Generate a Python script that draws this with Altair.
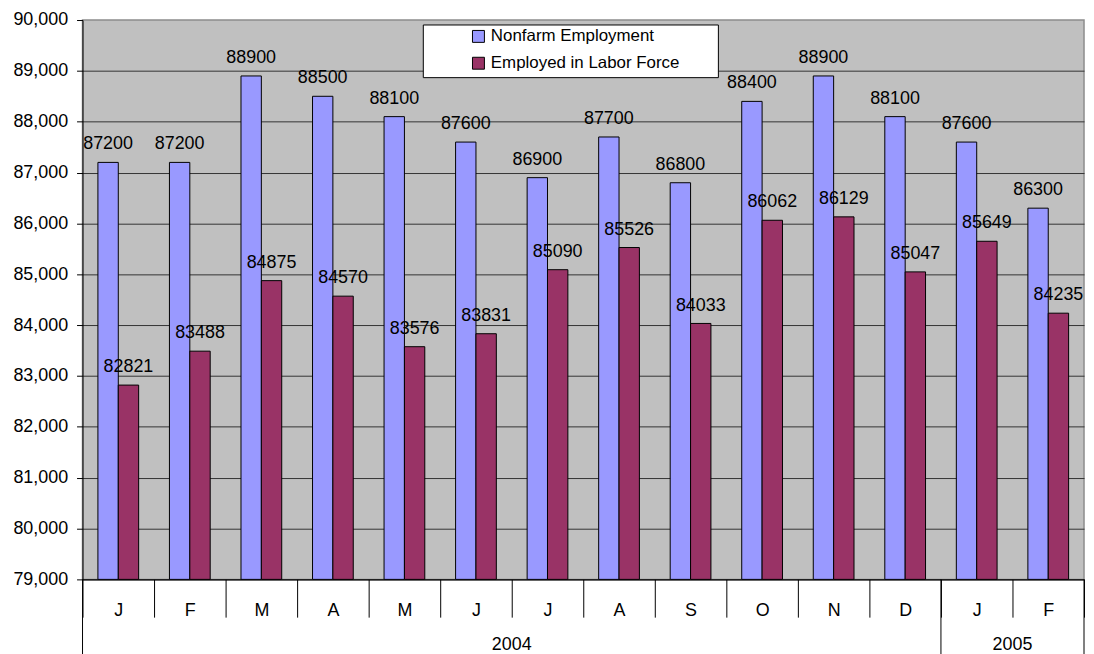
import altair as alt
import pandas as pd

FONT = "Liberation Sans"

months = ["J", "F", "M", "A", "M", "J", "J", "A", "S", "O", "N", "D", "J", "F"]
year_names = ["2004", "2005"]
year_start_idx = [0, 12]      # first month index of each year
year_center_idx = [6, 13]     # band whose left edge is the middle of the year span
series = ["Nonfarm Employment", "Employed in Labor Force"]
colors = ["#9999FF", "#993366"]
nonfarm = [87200, 87200, 88900, 88500, 88100, 87600, 86900, 87700, 86800, 88400, 88900, 88100, 87600, 86300]
employed = [82821, 83488, 84875, 84570, 83576, 83831, 85090, 85526, 84033, 86062, 86129, 85047, 85649, 84235]
y_ticks = list(range(79000, 90001, 1000))
y_min, y_max = 79000, 90000

keys = [f"{m}|{i}" for i, m in enumerate(months)]

rows = []
for k, a, b in zip(keys, nonfarm, employed):
    rows.append({"key": k, "series": series[0], "value": a})
    rows.append({"key": k, "series": series[1], "value": b})
df = pd.DataFrame(rows)

x_scale = alt.Scale(domain=keys, paddingInner=0, paddingOuter=0)
x_axis = alt.Axis(
    title=None, labelExpr="split(datum.label, '|')[0]", labelAngle=0,
    tickBand="extent", tickSize=38, tickColor="black", tickWidth=1,
    domainColor="black", domainWidth=1, labelFontSize=18, labelFont=FONT,
    labelColor="black", labelBaseline="middle", labelPadding=-7, grid=False,
    labelFlush=False, labelOverlap=False,
)
y_scale = alt.Scale(domain=[y_min, y_max], zero=False, nice=False)
y_axis = alt.Axis(
    title=None, values=y_ticks, format=",.0f", grid=True, gridColor="#333333",
    gridWidth=1, gridOpacity=alt.condition(f"datum.value == {y_max}", alt.value(0), alt.value(1)),
    tickSize=6, tickColor="black", domainColor="black",
    labelFontSize=18, labelFont=FONT, labelColor="black", labelPadding=9,
)
xoff = alt.XOffset("series:N", sort=series,
                   scale=alt.Scale(domain=series, paddingInner=0, paddingOuter=0.756))

bars = alt.Chart(df).mark_bar(stroke="black", strokeWidth=1).encode(
    x=alt.X("key:N", scale=x_scale, sort=keys, axis=x_axis),
    xOffset=xoff,
    y=alt.Y("value:Q", scale=y_scale, axis=y_axis),
    y2=alt.datum(y_min),
    color=alt.Color(
        "series:N", sort=series,
        scale=alt.Scale(domain=series, range=colors),
        legend=alt.Legend(
            title=None, orient="none", legendX=390, legendY=8,
            symbolType="square", symbolSize=144, symbolStrokeColor="black",
            symbolStrokeWidth=1, symbolOpacity=1,
            labelFontSize=17, labelFont=FONT, labelColor="black",
            labelOffset=4, rowPadding=9, padding=0, labelLimit=400,
        ),
    ),
)

labels = alt.Chart(df).mark_text(
    baseline="alphabetic", dy=-13, fontSize=18, font=FONT, color="black"
).encode(
    x=alt.X("key:N", scale=x_scale, sort=keys, axis=x_axis),
    xOffset=xoff,
    y=alt.Y("value:Q", scale=y_scale, axis=y_axis),
    text=alt.Text("value:Q", format="d"),
)

legend_box = alt.Chart(pd.DataFrame({"a": [0]})).mark_rect(
    fill="white", stroke="black", strokeWidth=1
).encode(
    x=alt.value(343), x2=alt.value(640), y=alt.value(5), y2=alt.value(58)
)

ydf = pd.DataFrame({
    "year": year_names,
    "start": [keys[i] for i in year_start_idx],
    "center": [keys[i] for i in year_center_idx],
})
end_df = pd.DataFrame({"end": [keys[-1]]})

rules_left = alt.Chart(ydf).mark_rule(color="black", strokeWidth=1).encode(
    x=alt.X("start:N", scale=x_scale, sort=keys, axis=x_axis, bandPosition=0),
    y=alt.value(563), y2=alt.value(646),
)
rules_right = alt.Chart(end_df).mark_rule(color="black", strokeWidth=1).encode(
    x=alt.X("end:N", scale=x_scale, sort=keys, axis=x_axis, bandPosition=1),
    y=alt.value(563), y2=alt.value(646),
)
year_text = alt.Chart(ydf).mark_text(
    baseline="middle", fontSize=18, font=FONT, color="black"
).encode(
    x=alt.X("center:N", scale=x_scale, sort=keys, axis=x_axis, bandPosition=0),
    y=alt.value(629),
    text="year:N",
)

chart = alt.layer(
    bars, labels, legend_box, rules_left, rules_right, year_text
).properties(
    width=1008, height=563,
    autosize=alt.AutoSizeParams(type="none"),
    padding={"left": 75, "top": 10, "right": 2, "bottom": 73},
    background="white",
).configure_view(
    fill="#C0C0C0", stroke="#8C8C8C", strokeWidth=1.5
)

chart.save("out.html", embed_options={"renderer": "svg", "actions": False})
